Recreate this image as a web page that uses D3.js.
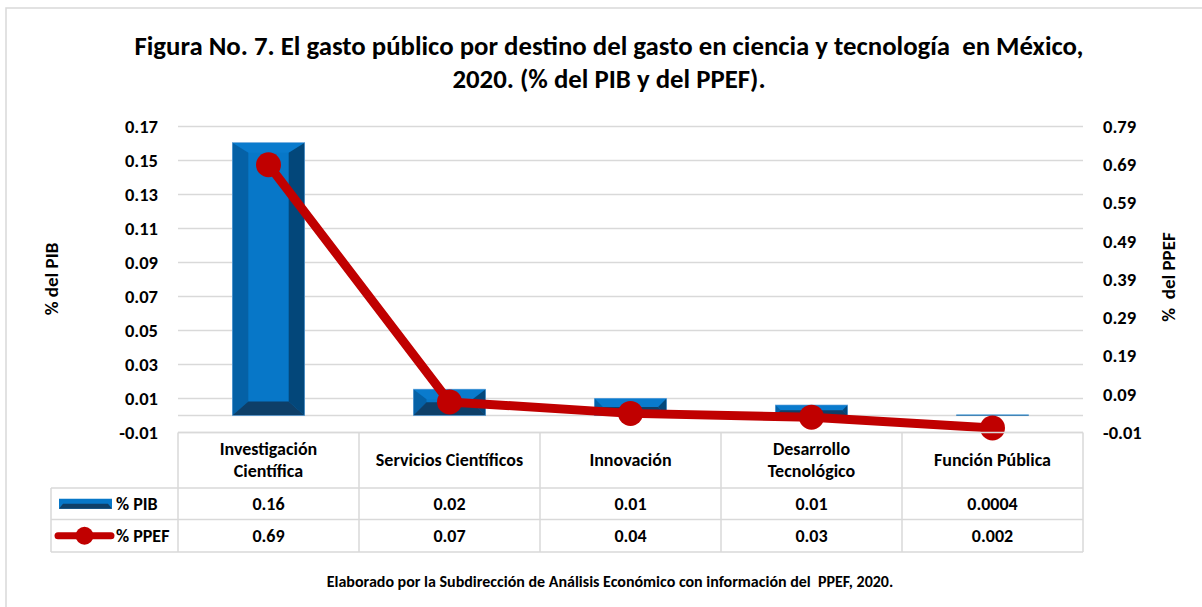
<!DOCTYPE html>
<html>
<head>
<meta charset="utf-8">
<script src="https://cdn.jsdelivr.net/npm/d3@7"></script>
<style>
  body { margin: 0; background: #fff; }
  svg { display: block; font-family: Carlito, Calibri, Lato, sans-serif; font-weight: bold; }
</style>
</head>
<body>
<div id="chart"></div>
<script>
// data
const categories = [['Investigación', 'Científica'], ['Servicios Científicos'], ['Innovación'], ['Desarrollo', 'Tecnológico'], ['Función Pública']];
const pibValues = [0.1605, 0.0155, 0.0101, 0.0062, 0.0004];
const ppefValues = [0.69, 0.07, 0.04, 0.03, 0.002];
const pibLabels = ['0.16', '0.02', '0.01', '0.01', '0.0004'];
const ppefLabels = ['0.69', '0.07', '0.04', '0.03', '0.002'];
const leftTicks = [-0.01, 0.01, 0.03, 0.05, 0.07, 0.09, 0.11, 0.13, 0.15, 0.17];
const rightTicks = [-0.01, 0.09, 0.19, 0.29, 0.39, 0.49, 0.59, 0.69, 0.79];

const W = 1202, H = 607;
const FONT = 'Carlito, Calibri, Lato, sans-serif';
const svg = d3.select('#chart').append('svg').attr('width', W).attr('height', H);

// outer frame (cut by the picture on right/bottom)
svg.append('rect').attr('x', 6).attr('y', 8).attr('width', W + 10).attr('height', H + 10)
  .attr('fill', 'none').attr('stroke', '#d9d9d9').attr('stroke-width', 1.5);

// title
const title = svg.append('text').attr('text-anchor', 'middle').attr('font-size', 26.8).attr('fill', '#000');
title.append('tspan').attr('x', 609).attr('y', 55).text('Figura No. 7. El gasto público por destino del gasto en ciencia y tecnología \u00a0en México,');
title.append('tspan').attr('x', 609).attr('y', 88).text('2020. (% del PIB y del PPEF).');

const keys = categories.map(function(c) { return c.join(' '); });
const x = d3.scaleBand().domain(keys).range([178, 1083]);
const yL = d3.scaleLinear().domain([-0.01, 0.17]).range([432.5, 126.5]);
const yR = d3.scaleLinear().domain([-0.01, 0.79]).range([432.5, 126.5]);

// gridlines
svg.append('g').selectAll('line').data(leftTicks.concat([0])).enter().append('line')
  .attr('x1', 178).attr('x2', 1083)
  .attr('y1', function(d) { return yL(d); }).attr('y2', function(d) { return yL(d); })
  .attr('stroke', '#d9d9d9').attr('stroke-width', 1.5);

// axes
const fmt = function(d) { return d3.format('.2f')(d).replace('\u2212', '-'); };
const axL = svg.append('g').attr('transform', 'translate(170,0)')
  .call(d3.axisLeft(yL).tickValues(leftTicks).tickFormat(fmt).tickSize(0).tickPadding(12));
const axR = svg.append('g').attr('transform', 'translate(1093,0)')
  .call(d3.axisRight(yR).tickValues(rightTicks).tickFormat(fmt).tickSize(0).tickPadding(10));
[axL, axR].forEach(function(ax) {
  ax.select('.domain').remove();
  ax.selectAll('text').attr('font-size', 18.5).attr('font-family', FONT)
    .attr('font-weight', 'bold').attr('fill', '#000');
});

svg.append('text').attr('transform', 'translate(58,279) rotate(-90)').attr('text-anchor', 'middle')
  .attr('font-size', 19).text('% del PIB');
svg.append('text').attr('transform', 'translate(1175,277) rotate(-90)').attr('text-anchor', 'middle')
  .attr('font-size', 19).text('%\u00a0 del PPEF');

// bevelled bars
const bw = x.bandwidth() * 0.4;
const bars = svg.append('g').selectAll('g').data(pibValues).enter().append('g');
bars.each(function(v, i) {
  const g = d3.select(this);
  const x0 = x(keys[i]) + (x.bandwidth() - bw) / 2, x1 = x0 + bw;
  const y0 = yL(v), y1 = yL(0);
  const h = y1 - y0;
  const s = Math.min(16, h / 2), t = Math.min(10, h / 2), b = Math.min(14, h / 2);
  const poly = function(pts, c) {
    g.append('polygon').attr('points', pts.map(function(p) { return p.join(','); }).join(' ')).attr('fill', c);
  };
  poly([[x0, y0], [x1, y0], [x1, y1], [x0, y1]], '#0777c8');
  poly([[x0, y0], [x1, y0], [x1 - s, y0 + t], [x0 + s, y0 + t]], '#0a7bcd');
  poly([[x0, y0], [x0 + s, y0 + t], [x0 + s, y1 - b], [x0, y1]], '#0561a6');
  poly([[x1, y0], [x1 - s, y0 + t], [x1 - s, y1 - b], [x1, y1]], '#03477a');
  poly([[x0, y1], [x0 + s, y1 - b], [x1 - s, y1 - b], [x1, y1]], '#0e3f68');
  if (h > 2) {
    g.append('rect').attr('x', x0).attr('y', y0).attr('width', bw).attr('height', h)
      .attr('fill', 'none').attr('stroke', '#6fa8dc').attr('stroke-width', 0.6);
  }
});

// line series
const cx = function(d, i) { return x(keys[i]) + x.bandwidth() / 2; };
svg.append('path').datum(ppefValues)
  .attr('d', d3.line().x(cx).y(function(d) { return yR(d); }))
  .attr('fill', 'none').attr('stroke', '#c00000').attr('stroke-width', 9).attr('stroke-linejoin', 'round');
svg.append('g').selectAll('circle').data(ppefValues).enter().append('circle')
  .attr('cx', cx).attr('cy', function(d) { return yR(d); }).attr('r', 12.5).attr('fill', '#c00000');

// data table
const rows = [432.5, 488, 519.5, 552];
const tbl = svg.append('g').attr('stroke', '#d9d9d9').attr('stroke-width', 1.5);
tbl.append('line').attr('x1', 178).attr('x2', 1083).attr('y1', rows[0]).attr('y2', rows[0]);
[rows[1], rows[2], rows[3]].forEach(function(r) {
  tbl.append('line').attr('x1', 51).attr('x2', 1083).attr('y1', r).attr('y2', r);
});
keys.concat(['end']).forEach(function(k, i) {
  const xx = i < keys.length ? x(k) : x.range()[1];
  tbl.append('line').attr('x1', xx).attr('x2', xx).attr('y1', rows[0]).attr('y2', rows[3]);
});
tbl.append('line').attr('x1', 51).attr('x2', 51).attr('y1', rows[1]).attr('y2', rows[3]);

const mid = function(i) { return x(keys[i]) + x.bandwidth() / 2; };
categories.forEach(function(c, i) {
  const t = svg.append('text').attr('text-anchor', 'middle').attr('font-size', 18).attr('fill', '#000');
  const y0 = (rows[0] + rows[1]) / 2 - (c.length - 1) * 11 + 6;
  c.forEach(function(line, j) {
    t.append('tspan').attr('x', mid(i)).attr('y', y0 + j * 22).text(line);
  });
});
[pibLabels, ppefLabels].forEach(function(lbls, r) {
  svg.append('g').selectAll('text').data(lbls).enter().append('text')
    .attr('x', function(d, i) { return mid(i); })
    .attr('y', (rows[r + 1] + rows[r + 2]) / 2 + 6.5)
    .attr('text-anchor', 'middle').attr('font-size', 18).text(function(d) { return d; });
});

// legend keys inside table
const ly1 = (rows[1] + rows[2]) / 2, ly2 = (rows[2] + rows[3]) / 2;
svg.append('polygon').attr('points', [[59, ly1 - 5], [112, ly1 - 5], [112, ly1 + 5], [59, ly1 + 5]].join(' ')).attr('fill', '#0777c8');
svg.append('polygon').attr('points', [[59, ly1 + 5], [63, ly1], [108, ly1], [112, ly1 + 5]].join(' ')).attr('fill', '#0e3f68');
svg.append('line').attr('x1', 58).attr('x2', 111).attr('y1', ly2).attr('y2', ly2)
  .attr('stroke', '#c00000').attr('stroke-width', 7).attr('stroke-linecap', 'round');
svg.append('circle').attr('cx', 84.5).attr('cy', ly2).attr('r', 9).attr('fill', '#c00000');
svg.append('text').attr('x', 116).attr('y', ly1 + 6.5).attr('font-size', 18).text('% PIB');
svg.append('text').attr('x', 116).attr('y', ly2 + 6.5).attr('font-size', 18).text('% PPEF');

// source note
svg.append('text').attr('x', 610).attr('y', 587).attr('text-anchor', 'middle').attr('font-size', 16)
  .text('Elaborado por la Subdirección de Análisis Económico con información del \u00a0PPEF, 2020.');
</script>
</body>
</html>
